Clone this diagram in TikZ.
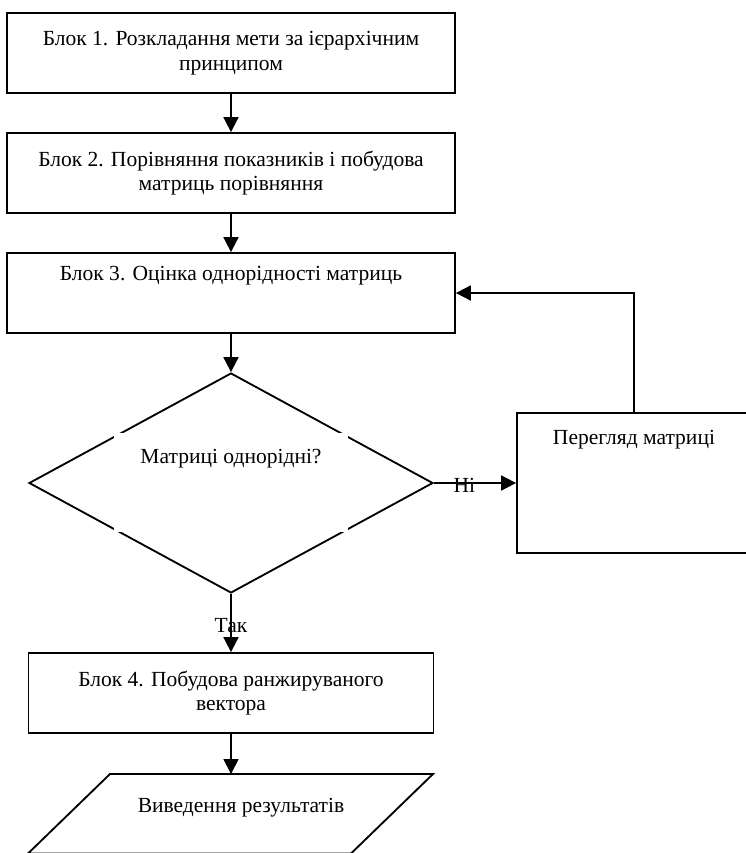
\documentclass[tikz,border=0pt]{standalone}
\usepackage{fontspec}
\setmainfont{Liberation Serif}
\usetikzlibrary{shapes.geometric,arrows.meta}

\begin{document}
\begin{tikzpicture}
    [
    x = 0.02cm,
    y = -0.02cm,
    every node/.style = {font=\fontsize{12.25pt}{14pt}\selectfont},
    block/.style      = {draw, rectangle, line width=1.05pt, inner sep=0pt,
                         minimum width=8.96cm, minimum height=1.6cm, align=center},
    topblock/.style   = {block, text height=0.54cm, text depth=1.06cm},
    decision/.style   = {draw, diamond, line width=1.05pt, inner sep=0pt,
                         minimum width=8.08cm, minimum height=4.4cm},
    qbox/.style       = {fill=white, inner sep=0pt, minimum width=4.68cm,
                         text height=0.62cm, text depth=1.38cm},
    arrow/.style      = {-{Triangle[length=0.3cm,width=0.3cm]}, line width=1.05pt}
    ]
    \useasboundingbox (0,0) rectangle (746,853);
    \clip (0,0) rectangle (746,853);
    \node [block] (blk1) at (231,53)
        {Блок 1. Розкладання мети за ієрархічним\\принципом};
    \node [block] (blk2) at (231,173)
        {Блок 2. Порівняння показників і побудова\\матриць порівняння};
    \node [topblock] (blk3) at (231,293) {Блок 3. Оцінка однорідності матриць};
    \node [decision] (chk) at (231,483) {};
    \node [qbox] (chktext) at (231,482.5) {Матриці однорідні?};
    \node [topblock, minimum width=4.68cm, text height=0.62cm, text depth=2.18cm]
        (rev) at (634,483) {Перегляд матриці};
    \node [block, minimum width=8.1cm] (blk4) at (231,693)
        {Блок 4. Побудова ранжируваного\\вектора};
    \draw [line width=1.05pt] (110,774) -- (433,774) -- (351,853.5) -- (28,853.5) -- cycle;
    \coordinate (restop) at (231,774);
    \node (res) at (241,808) {Виведення результатів};
    \draw [arrow] (blk1) -- (blk2);
    \draw [arrow] (blk2) -- (blk3);
    \draw [arrow] (blk3) -- (chk);
    \draw [arrow] (chk.east) -- node [pos=0.37, yshift=-0.04cm] {Ні} (rev.west);
    \draw [arrow] (rev.north) |- (blk3.east);
    \draw [arrow] (chk.south) -- node [pos=0.55] {Так} (blk4.north);
    \draw [arrow] (blk4) -- (restop);
\end{tikzpicture}
\end{document}
